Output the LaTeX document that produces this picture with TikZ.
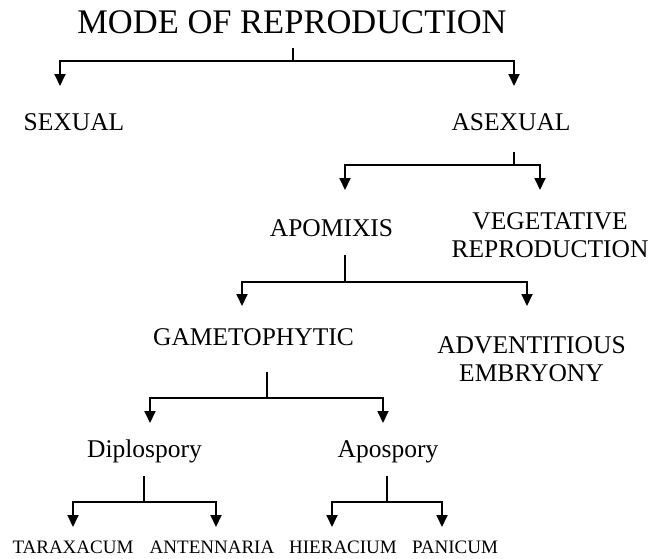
\documentclass[tikz,border=0pt]{standalone}
\usepackage{fontspec}
\setmainfont{Liberation Serif}
\usetikzlibrary{arrows.meta}
\tikzset{
  lbl/.style={inner sep=0pt, anchor=base, font=\fontsize{25.5}{29}\selectfont},
  lbltwo/.style={inner sep=0pt, anchor=north, align=center, font=\fontsize{25.5}{28}\selectfont},
  leaf/.style={inner sep=0pt, anchor=base, font=\fontsize{19}{22}\selectfont},
  ttl/.style={inner sep=0pt, anchor=base, font=\fontsize{34.5}{40}\selectfont},
  ln/.style={line width=1.8pt, line join=miter},
  arr/.style={ln, -{Triangle[length=12pt,width=11pt]}}
}
\begin{document}
\begin{tikzpicture}[x=1pt,y=1pt]
\useasboundingbox (0,0) rectangle (650,-558);
% texts
\node[ttl] (title) at (292,-33) {MODE OF REPRODUCTION};
\node[lbl] (sexual) at (74,-130) {SEXUAL};
\node[lbl] (asexual) at (511,-130) {ASEXUAL};
\node[lbl] (apomixis) at (331.5,-236) {APOMIXIS};
\node[lbltwo] (veg) at (550,-212) {VEGETATIVE\\REPRODUCTION};
\node[lbl] (gameto) at (253.5,-345) {GAMETOPHYTIC};
\node[lbltwo] (advent) at (531.5,-336) {ADVENTITIOUS\\EMBRYONY};
\node[lbl] (diplo) at (144.5,-457) {Diplospory};
\node[lbl] (apo) at (388,-457) {Apospory};
\node[leaf] (tarax) at (73,-553) {TARAXACUM};
\node[leaf] (anten) at (212,-553) {ANTENNARIA};
\node[leaf] (hier) at (343,-553) {HIERACIUM};
\node[leaf] (panic) at (455,-553) {PANICUM};
% fork 1
\coordinate (a1) at (293,-48); \coordinate (b1) at (293,-61);
\coordinate (l1) at (60,-86); \coordinate (r1) at (514,-86);
\draw[ln] (a1) -- (b1);
\draw[arr] (b1) -| (l1);
\draw[arr] (b1) -| (r1);
% fork 2
\coordinate (a2) at (514,-152); \coordinate (b2) at (514,-165);
\coordinate (l2) at (345,-190); \coordinate (r2) at (540,-190);
\draw[ln] (a2) -- (b2);
\draw[arr] (b2) -| (l2);
\draw[arr] (b2) -| (r2);
% fork 3
\coordinate (a3) at (345,-255); \coordinate (b3) at (345,-282);
\coordinate (l3) at (242,-306); \coordinate (r3) at (527,-306);
\draw[ln] (a3) -- (b3);
\draw[arr] (b3) -| (l3);
\draw[arr] (b3) -| (r3);
% fork 4
\coordinate (a4) at (267,-372); \coordinate (b4) at (267,-398);
\coordinate (l4) at (150,-423); \coordinate (r4) at (383,-423);
\draw[ln] (a4) -- (b4);
\draw[arr] (b4) -| (l4);
\draw[arr] (b4) -| (r4);
% fork 5
\coordinate (a5) at (144,-476); \coordinate (b5) at (144,-502);
\coordinate (l5) at (73,-527); \coordinate (r5) at (216,-527);
\draw[ln] (a5) -- (b5);
\draw[arr] (b5) -| (l5);
\draw[arr] (b5) -| (r5);
% fork 6
\coordinate (a6) at (387,-476); \coordinate (b6) at (387,-502);
\coordinate (l6) at (332,-527); \coordinate (r6) at (442,-527);
\draw[ln] (a6) -- (b6);
\draw[arr] (b6) -| (l6);
\draw[arr] (b6) -| (r6);
\end{tikzpicture}
\end{document}
